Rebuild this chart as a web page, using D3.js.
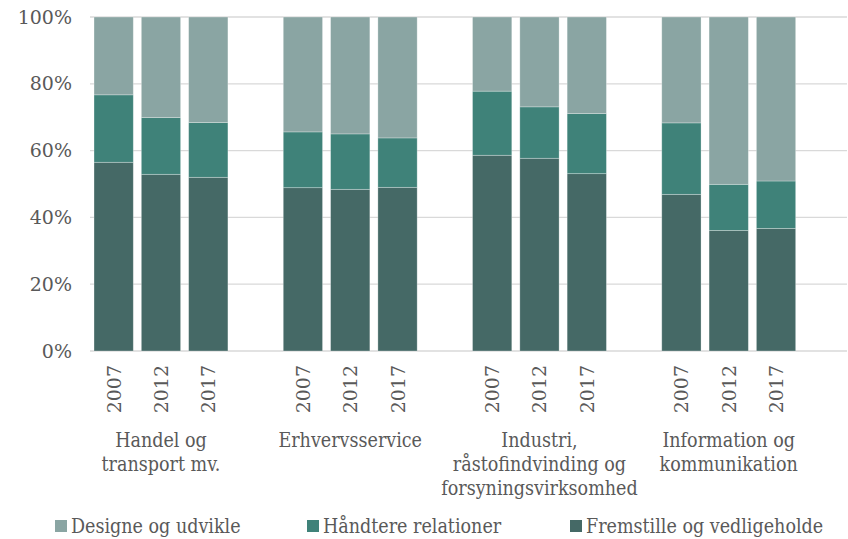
<!DOCTYPE html>
<html>
<head>
<meta charset="utf-8">
<script src="https://cdn.jsdelivr.net/npm/d3@7"></script>
<style>
  body { margin: 0; background: #fff; }
  text { font-family: "DejaVu Serif", serif; fill: #595959; }
  .words { font-family: "DejaVu Serif Condensed", "DejaVu Serif", serif; font-stretch: condensed; }
</style>
</head>
<body>
<div id="chart"></div>
<script>
var groups = ["Handel og|transport mv.", "Erhvervsservice", "Industri,|råstofindvinding og|forsyningsvirksomhed", "Information og|kommunikation"];
var years = ["2007", "2012", "2017"];
var seriesNames = ["Fremstille og vedligeholde", "Håndtere relationer", "Designe og udvikle"];
var seriesColors = ["#456966", "#3f8279", "#8aa5a3"];

// one value per bar, order: group by group, year by year
var fremstille = [56.5, 52.9, 52.0, 48.9, 48.4, 49.0, 58.6, 57.7, 53.1, 46.9, 36.1, 36.7];
var haandtere = [20.2, 17.0, 16.4, 16.7, 16.6, 14.8, 19.2, 15.4, 18.0, 21.4, 13.8, 14.2];
var designe = [23.3, 30.1, 31.6, 34.4, 35.0, 36.2, 22.2, 26.9, 28.9, 31.7, 50.1, 49.1];
var yTicks = [0, 20, 40, 60, 80, 100];

var W = 848, H = 539;
var margin = {top: 17, right: 1, bottom: 188, left: 90},
  width = W - margin.left - margin.right,
  height = H - margin.top - margin.bottom;

// slots: 3 bars per group plus a blank slot after each group
var slots = [];
var bars = [];
groups.forEach(function(g, gi) {
  years.forEach(function(y, yi) {
    var i = gi * 3 + yi;
    var key = gi + "-" + y;
    slots.push(key);
    bars.push({key: key, year: y, group: gi, vals: [fremstille[i], haandtere[i], designe[i]]});
  });
  slots.push("gap" + gi);
});

var svg = d3.select("#chart").append("svg")
  .attr("width", W).attr("height", H)
  .append("g")
  .attr("transform", "translate(" + margin.left + "," + margin.top + ")");

var x = d3.scaleBand().domain(slots).range([0, width]).paddingInner(0.17).paddingOuter(0.085);
var y = d3.scaleLinear().domain([0, 100]).range([height, 0]);

// grid
svg.append("g").selectAll("line").data(yTicks).enter().append("line")
  .attr("x1", 0).attr("x2", width)
  .attr("y1", function(d) { return y(d); }).attr("y2", function(d) { return y(d); })
  .attr("stroke", "#d9d9d9").attr("stroke-width", 1.3);

var yAxis = svg.append("g")
  .call(d3.axisLeft(y).tickValues(yTicks).tickFormat(function(d) { return d + "%"; }).tickSize(0).tickPadding(18));
yAxis.select(".domain").remove();
yAxis.selectAll("text").style("font-size", "19px").style("font-family", "DejaVu Serif").attr("fill", "#595959");

// stacked bars
var stackData = bars.map(function(b) {
  var o = {key: b.key};
  b.vals.forEach(function(v, i) { o["s" + i] = v; });
  return o;
});
var stack = d3.stack().keys(["s0", "s1", "s2"]);
var layers = stack(stackData);

svg.append("g").selectAll("g").data(layers).enter().append("g")
  .attr("fill", function(d, i) { return seriesColors[i]; })
  .selectAll("rect").data(function(d) { return d; }).enter().append("rect")
  .attr("x", function(d) { return x(d.data.key); })
  .attr("width", x.bandwidth())
  .attr("y", function(d) { return y(d[1]); })
  .attr("height", function(d) { return y(d[0]) - y(d[1]); })
  .attr("stroke", "#ffffff").attr("stroke-opacity", 0.35).attr("stroke-width", 0.8);

// year labels
svg.append("g").selectAll("text").data(bars).enter().append("text")
  .attr("transform", function(d) {
    return "translate(" + (x(d.key) + x.bandwidth() / 2 + 7) + "," + (height + 14) + ") rotate(-90)";
  })
  .attr("text-anchor", "end")
  .style("font-size", "19px")
  .text(function(d) { return d.year; });

// group labels
var gl = svg.append("g").selectAll("text").data(groups).enter().append("text")
  .attr("class", "words")
  .attr("text-anchor", "middle")
  .style("font-size", "19.5px")
  .attr("x", function(d, i) { return x(i + "-2012") + x.bandwidth() / 2; })
  .attr("y", height + 96);
gl.each(function(d) {
  var t = d3.select(this);
  d.split("|").forEach(function(line, li) {
    t.append("tspan").attr("x", t.attr("x")).attr("dy", li === 0 ? 0 : 24).text(line);
  });
});

// legend
var legendX = [-35, 217, 480];
var legendOrder = [2, 1, 0];
var leg = svg.append("g").attr("transform", "translate(0," + (height + 182) + ")");
legendOrder.forEach(function(si, i) {
  leg.append("rect").attr("x", legendX[i]).attr("y", -13).attr("width", 12).attr("height", 12)
    .attr("fill", seriesColors[si]);
  leg.append("text").attr("class", "words").attr("x", legendX[i] + 16).attr("y", 0)
    .style("font-size", "19.5px").text(seriesNames[si]);
});
</script>
</body>
</html>
